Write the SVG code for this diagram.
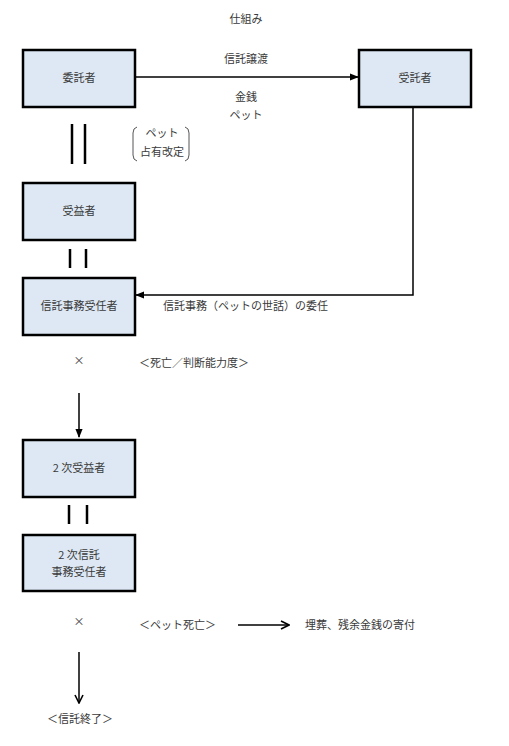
<svg xmlns="http://www.w3.org/2000/svg" width="509" height="746" viewBox="0 0 509 746">
<defs>
<style>
.box{fill:#dde8f4;stroke:#000;stroke-width:2.5}
.t{font-family:"Noto Sans CJK JP","Noto Sans",sans-serif;font-size:11px;fill:#3a3a3a}
.m{text-anchor:middle}
.ln{stroke:#000;stroke-width:1.5;fill:none}
.dl{stroke:#000;stroke-width:2.5}
</style>
<marker id="fa" viewBox="0 0 10 10" refX="9" refY="5" markerWidth="6" markerHeight="6" orient="auto"><path d="M0,1 L10,5 L0,9 Z" fill="#000"/></marker>
<marker id="oa" viewBox="0 0 10 10" refX="9" refY="5" markerWidth="10" markerHeight="10" markerUnits="userSpaceOnUse" orient="auto"><path d="M1,1 L9,5 L1,9" fill="none" stroke="#000" stroke-width="1.6"/></marker>
</defs>
<rect width="509" height="746" fill="#fff"/>
<text class="t m" x="246" y="23">仕組み</text>
<g id="itakusha"><rect class="box" x="23" y="50" width="112" height="57"/><text class="t m" x="79" y="82">委託者</text></g>
<g id="jutakusha"><rect class="box" x="359" y="50" width="112" height="57"/><text class="t m" x="415" y="82">受託者</text></g>
<g id="juekisha"><rect class="box" x="23" y="183" width="112" height="57"/><text class="t m" x="79" y="215">受益者</text></g>
<g id="jiminin"><rect class="box" x="23" y="278" width="112" height="57"/><text class="t m" x="79" y="310">信託事務受任者</text></g>
<g id="juekisha2"><rect class="box" x="23" y="440" width="112" height="57"/><text class="t m" x="79" y="472">2 次受益者</text></g>
<g id="jiminin2"><rect class="box" x="23" y="535" width="112" height="56"/><text class="t m" x="79" y="559">2 次信託</text><text class="t m" x="79" y="576">事務受任者</text></g>
<g id="connectors">
<line class="ln" x1="135" y1="77" x2="358" y2="77" marker-end="url(#fa)"/>
<polyline class="ln" points="413,107 413,295 136,295" stroke-width="2" marker-end="url(#fa)"/>
<line class="ln" x1="79" y1="393" x2="79" y2="437" marker-end="url(#fa)"/>
<line class="ln" x1="238" y1="625" x2="289" y2="625" marker-end="url(#oa)"/>
<line class="ln" x1="79" y1="652" x2="79" y2="703" marker-end="url(#oa)"/>
<line class="dl" x1="72" y1="124" x2="72" y2="164"/><line class="dl" x1="85" y1="124" x2="85" y2="164"/>
<line class="dl" x1="70" y1="249" x2="70" y2="268"/><line class="dl" x1="86" y1="249" x2="86" y2="268"/>
<line class="dl" x1="69" y1="505" x2="69" y2="524"/><line class="dl" x1="87" y1="505" x2="87" y2="524"/>
</g>
<text class="t m" x="246" y="63">信託譲渡</text>
<text class="t m" x="246" y="101">金銭</text>
<text class="t m" x="246" y="119">ペット</text>
<path d="M137,127 Q133,128 133,133 L133,155 Q133,160 137,161" fill="none" stroke="#555" stroke-width="1"/>
<path d="M185,127 Q189,128 189,133 L189,155 Q189,160 185,161" fill="none" stroke="#555" stroke-width="1"/>
<text class="t m" x="162" y="137">ペット</text>
<text class="t m" x="162" y="156">占有改定</text>
<text class="t" x="163" y="310">信託事務（ペットの世話）の委任</text>
<text class="t m" x="79" y="365">×</text>
<text class="t" x="139" y="367">＜死亡／判断能力度＞</text>
<text class="t m" x="79" y="626">×</text>
<text class="t" x="139" y="629">＜ペット死亡＞</text>
<text class="t" x="305" y="629">埋葬、残余金銭の寄付</text>
<text class="t" x="47" y="723">＜信託終了＞</text>
</svg>
